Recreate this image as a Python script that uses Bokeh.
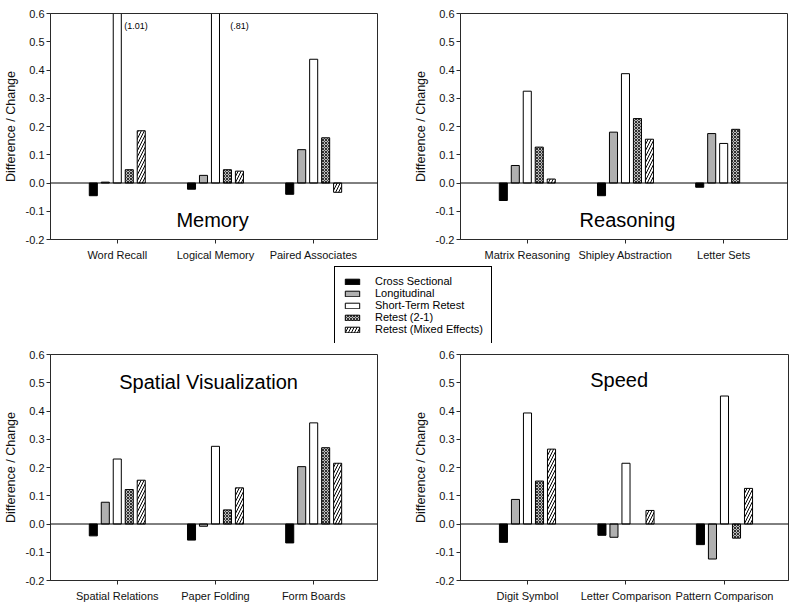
from bokeh.plotting import figure
from bokeh.layouts import column, row, Spacer
from bokeh.models import (FixedTicker, Span, Legend, LegendItem, Range1d, Label,
                          NumeralTickFormatter)
from bokeh.embed import file_html
from bokeh.resources import INLINE

FONT = "Liberation Sans"
LINE = "#2a2a2a"

series = ["Cross Sectional", "Longitudinal", "Short-Term Retest",
          "Retest (2-1)", "Retest (Mixed Effects)"]

y_ticks = [-0.2, -0.1, 0.0, 0.1, 0.2, 0.3, 0.4, 0.5, 0.6]

# ---- Memory ----
memory_tests = ["Word Recall", "Logical Memory", "Paired Associates"]
memory_cs = [-0.045, -0.022, -0.040]
memory_long = [0.003, 0.027, 0.118]
memory_str = [1.01, 0.81, 0.438]
memory_r21 = [0.047, 0.047, 0.160]
memory_mixed = [0.185, 0.042, -0.033]
memory_notes = ["(1.01)", "(.81)"]

# ---- Reasoning ----
reasoning_tests = ["Matrix Reasoning", "Shipley Abstraction", "Letter Sets"]
reasoning_cs = [-0.062, -0.045, -0.015]
reasoning_long = [0.062, 0.180, 0.175]
reasoning_str = [0.325, 0.387, 0.140]
reasoning_r21 = [0.127, 0.228, 0.190]
reasoning_mixed = [0.014, 0.155, None]

# ---- Spatial Visualization ----
spatial_tests = ["Spatial Relations", "Paper Folding", "Form Boards"]
spatial_cs = [-0.042, -0.057, -0.067]
spatial_long = [0.077, -0.008, 0.203]
spatial_str = [0.230, 0.275, 0.358]
spatial_r21 = [0.122, 0.050, 0.270]
spatial_mixed = [0.155, 0.128, 0.215]

# ---- Speed ----
speed_tests = ["Digit Symbol", "Letter Comparison", "Pattern Comparison"]
speed_cs = [-0.065, -0.040, -0.073]
speed_long = [0.087, -0.047, -0.124]
speed_str = [0.393, 0.215, 0.453]
speed_r21 = [0.152, None, -0.050]
speed_mixed = [0.265, 0.048, 0.126]

STYLES = [
    dict(fill_color="black", line_color="black"),
    dict(fill_color="#b0b0b0", line_color="black"),
    dict(fill_color="white", line_color="black"),
    dict(fill_color="#bdbdbd", line_color="black", hatch_pattern="diagonal_cross",
         hatch_color="#303030", hatch_scale=3, hatch_weight=1),
    dict(fill_color="white", line_color="black", hatch_pattern="right_diagonal_line",
         hatch_color="black", hatch_scale=6, hatch_weight=1),
]
OFFSETS = [-0.244, -0.122, 0.0, 0.122, 0.244]
BAR_W = 0.082


def make_panel(tests, data, title, tx, ty, w, h, bl, br, bt, bb):
    p = figure(width=w, height=h, x_range=Range1d(0.32, 3.65), y_range=Range1d(-0.2, 0.6),
               output_backend="svg", toolbar_location=None,
               min_border_left=bl, min_border_right=br, min_border_top=bt,
               min_border_bottom=bb)
    p.grid.visible = False
    p.outline_line_color = LINE
    p.outline_line_width = 1
    for k, vals in enumerate(data):
        xs = [i + 1 + OFFSETS[k] for i, v in enumerate(vals) if v is not None]
        tops = [v for v in vals if v is not None]
        p.vbar(x=xs, top=tops, bottom=0, width=BAR_W, line_width=1, **STYLES[k])
    p.add_layout(Span(location=0, dimension="width", line_color="black", line_width=1))

    p.xaxis.ticker = FixedTicker(ticks=[1, 2, 3])
    p.xaxis.major_label_overrides = {1: tests[0], 2: tests[1], 3: tests[2]}
    p.yaxis.ticker = FixedTicker(ticks=y_ticks)
    p.yaxis.formatter = NumeralTickFormatter(format="0.0")
    p.yaxis.axis_label = "Difference / Change"
    p.yaxis.axis_label_text_font = FONT
    p.yaxis.axis_label_text_font_size = "12.5px"
    p.yaxis.axis_label_text_font_style = "normal"
    p.yaxis.axis_label_text_color = "#111111"
    p.yaxis.axis_label_standoff = 5
    for ax in (p.xaxis, p.yaxis):
        ax.axis_line_color = LINE
        ax.major_tick_line_color = LINE
        ax.minor_tick_line_color = None
        ax.major_tick_out = 4
        ax.major_tick_in = 0
        ax.major_label_text_font = FONT
        ax.major_label_text_font_size = "11px"
        ax.major_label_text_color = "#111111"
    p.yaxis.major_label_standoff = 2
    p.xaxis.major_label_standoff = 5
    p.add_layout(Label(x=tx, y=ty, text=title, text_font=FONT, text_font_size="20px",
                       text_align="center", text_baseline="middle", text_color="black"))
    return p


p1 = make_panel(memory_tests, [memory_cs, memory_long, memory_str, memory_r21, memory_mixed],
                "Memory", 1.97, -0.132, 400, 266, 50, 23, 10, 25)
p1.add_layout(Label(x=1.07, y=0.555, text=memory_notes[0], text_font=FONT,
                    text_font_size="9px", text_baseline="middle", text_align="left",
                    text_color="black"))
p1.add_layout(Label(x=2.15, y=0.555, text=memory_notes[1], text_font=FONT,
                    text_font_size="9px", text_baseline="middle", text_align="left",
                    text_color="black"))

p2 = make_panel(reasoning_tests,
                [reasoning_cs, reasoning_long, reasoning_str, reasoning_r21, reasoning_mixed],
                "Reasoning", 2.02, -0.13, 399, 266, 60, 12, 13, 27)
p3 = make_panel(spatial_tests, [spatial_cs, spatial_long, spatial_str, spatial_r21, spatial_mixed],
                "Spatial Visualization", 1.93, 0.503, 400, 263, 50, 23, 11, 26)
p4 = make_panel(speed_tests, [speed_cs, speed_long, speed_str, speed_r21, speed_mixed],
                "Speed", 1.93, 0.51, 399, 263, 60, 11, 10, 26)

# ---- legend ----
lf = figure(width=166, height=77, x_range=Range1d(0, 1), y_range=Range1d(0, 1),
            output_backend="svg", toolbar_location=None, min_border=0,
            x_axis_location=None, y_axis_location=None)
lf.grid.visible = False
lf.outline_line_color = None
items = []
for name, st in zip(series, STYLES):
    r = lf.vbar(x=[5], top=[1], bottom=0, width=0.1, line_width=1, **st)
    items.append(LegendItem(label=name, renderers=[r]))
leg = Legend(items=items, location="top_left", margin=0, padding=8, spacing=0,
             glyph_width=18, glyph_height=7, label_height=12, label_standoff=14,
             label_text_font=FONT, label_text_font_size="11px", label_text_color="black",
             border_line_color="black", border_line_width=1, border_line_alpha=1,
             background_fill_color="white", background_fill_alpha=1)
lf.add_layout(leg, "center")

layout = column(row(p1, p2), row(Spacer(width=334, height=77), lf), row(p3, p4))

open("out.html", "w").write(file_html(layout, INLINE))
